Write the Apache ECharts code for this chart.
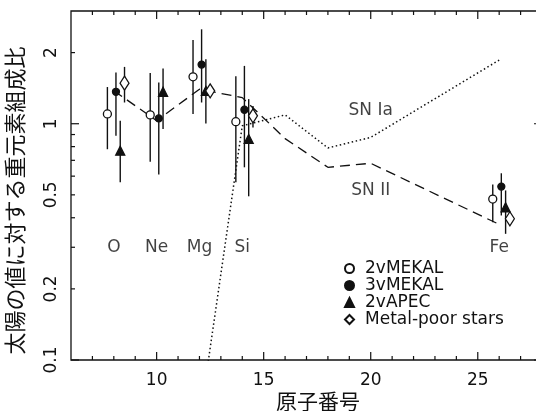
<!DOCTYPE html>
<html lang="ja">
<head>
<meta charset="UTF-8">
<title>太陽の値に対する重元素組成比</title>
<script src="https://cdn.jsdelivr.net/npm/echarts@6.0.0/dist/echarts.min.js"></script>
<style>
  html, body { margin: 0; padding: 0; background: #fff; }
  #chart { width: 536px; height: 411px; }
</style>
</head>
<body>
<div id="chart"></div>
<script>
// 元素ラベル
const elemZ = [8, 10, 12, 14, 26];
const elemNames = ['O', 'Ne', 'Mg', 'Si', 'Fe'];

// 2vMEKAL (open circle)
const mekal2X = [7.7, 9.7, 11.7, 13.7, 25.7];
const mekal2Val = [1.10, 1.09, 1.58, 1.02, 0.48];
const mekal2Lo = [0.78, 0.69, 1.10, 0.565, 0.383];
const mekal2Hi = [1.43, 1.64, 2.26, 1.59, 0.553];

// 3vMEKAL (filled circle)
const mekal3X = [8.1, 10.1, 12.1, 14.1, 26.1];
const mekal3Val = [1.365, 1.053, 1.78, 1.146, 0.542];
const mekal3Lo = [0.89, 0.609, 1.23, 0.654, 0.409];
const mekal3Hi = [1.646, 1.494, 2.51, 1.757, 0.617];

// 2vAPEC (filled triangle)
const apecX = [8.3, 10.3, 12.3, 14.3, 26.3];
const apecVal = [0.769, 1.365, 1.378, 0.862, 0.443];
const apecLo = [0.565, 0.95, 1.003, 0.493, 0.342];
const apecHi = [1.03, 1.711, 1.875, 1.271, 0.522];

// Metal-poor stars (diamond)
const starX = [8.5, 12.5, 14.5, 26.5];
const starVal = [1.485, 1.378, 1.08, 0.396];
const starLo = [1.23, null, 0.965, null];
const starHi = [1.74, null, 1.19, null];

// model curves
const snIIZ = [8, 10, 12, 14, 16, 18, 20, 26];
const snIIVal = [1.38, 1.03, 1.40, 1.29, 0.865, 0.654, 0.68, 0.375];
const snIaZ = [12, 14, 16, 18, 20, 26];
const snIaVal = [0.0545, 0.98, 1.09, 0.79, 0.875, 1.86];

// ticks
const xLabels = [10, 15, 20, 25];
const xMinor = [7, 8, 9, 11, 12, 13, 14, 16, 17, 18, 19, 21, 22, 23, 24, 26, 27];
const yLabels = [0.1, 0.2, 0.5, 1, 2];
const yMajor = [0.1, 1];
const yMinor = [0.2, 0.3, 0.4, 0.5, 0.6, 0.7, 0.8, 0.9, 2];

const xMin = 6, xMax = 28, yMin = 0.1, yMax = 3;
const ink = '#111';
const font = 'DejaVu Sans';

function errorBars(xs, lo, hi) {
  const data = [];
  xs.forEach((x, i) => { if (lo[i] != null) data.push([x, lo[i], hi[i]]); });
  return {
    type: 'custom', silent: true, z: 2, data,
    encode: { x: 0, y: [1, 2] },
    renderItem: (params, api) => {
      const a = api.coord([api.value(0), api.value(1)]);
      const b = api.coord([api.value(0), api.value(2)]);
      return { type: 'line', shape: { x1: a[0], y1: a[1], x2: b[0], y2: b[1] },
               style: { stroke: ink, lineWidth: 1.4 } };
    }
  };
}
function points(name, xs, vals, symbol, size, fill) {
  return {
    type: 'scatter', name, symbol, symbolSize: size, z: 4,
    data: xs.map((x, i) => [x, vals[i]]),
    itemStyle: { color: fill, borderColor: ink, borderWidth: 1.3, opacity: 1 }
  };
}
function textMarks(items, size) {
  return {
    type: 'scatter', symbol: 'circle', symbolSize: 0, silent: true, z: 5,
    label: { show: true, position: [0, 0], align: 'center', verticalAlign: 'middle', formatter: '{b}',
             fontFamily: font, fontSize: size, color: ink },
    data: items
  };
}

// inward ticks on all four sides (dir 0 = x tick, 1 = y tick)
const tickData = [
  ...xLabels.map(v => [v, yMin, 0, 8]),
  ...xMinor.map(v => [v, yMin, 0, 4]),
  ...yMajor.map(v => [xMin, v, 1, 8]),
  ...yMinor.map(v => [xMin, v, 1, 4])
];
const tickSeries = {
  type: 'custom', silent: true, z: 6, data: tickData,
  encode: { x: 0, y: 1 },
  renderItem: (params, api) => {
    const v = api.value(0), w = api.value(1), dir = api.value(2), len = api.value(3);
    const st = { stroke: ink, lineWidth: 1.2 };
    if (dir === 0) {
      const b = api.coord([v, yMin]), t = api.coord([v, yMax]);
      return { type: 'group', children: [
        { type: 'line', shape: { x1: b[0], y1: b[1], x2: b[0], y2: b[1] - len }, style: st },
        { type: 'line', shape: { x1: t[0], y1: t[1], x2: t[0], y2: t[1] + len }, style: st }
      ] };
    }
    const l = api.coord([xMin, w]), r = api.coord([xMax, w]);
    return { type: 'group', children: [
      { type: 'line', shape: { x1: l[0], y1: l[1], x2: l[0] + len, y2: l[1] }, style: st },
      { type: 'line', shape: { x1: r[0], y1: r[1], x2: r[0] - len, y2: r[1] }, style: st }
    ] };
  }
};

const chart = echarts.init(document.getElementById('chart'));
chart.setOption({
  animation: false,
  grid: { left: 71, top: 11, right: -6, bottom: 51, outerBoundsMode: 'none',
          show: true, borderColor: ink, borderWidth: 1.3 },
  xAxis: {
    type: 'value', min: xMin, max: xMax,
    axisLine: { show: false }, axisTick: { show: false }, splitLine: { show: false },
    axisLabel: { customValues: xLabels, margin: 12, fontFamily: font, fontSize: 17, color: ink },
    name: '原子番号', nameLocation: 'middle', nameGap: 31, nameMoveOverlap: false,
    nameTextStyle: { fontFamily: 'Noto Sans CJK JP', fontSize: 21, color: ink, padding: [0, 0, 0, 23] }
  },
  yAxis: {
    type: 'log', logBase: 10, min: yMin, max: yMax,
    axisLine: { show: false }, axisTick: { show: false }, splitLine: { show: false },
    axisLabel: { customValues: yLabels, rotate: 90, margin: 11, fontFamily: font, fontSize: 17, color: ink },
    name: '太陽の値に対する重元素組成比', nameLocation: 'middle', nameRotate: 90, nameGap: 45,
    nameTextStyle: { fontFamily: 'Noto Sans CJK JP', fontSize: 22, color: ink, padding: [0, 30, 0, 0] }
  },
  legend: {
    orient: 'vertical', left: 339, top: 255, itemWidth: 9, itemHeight: 9, itemGap: 0,
    data: ['2vMEKAL', '3vMEKAL', '2vAPEC', 'Metal-poor stars'],
    textStyle: { fontFamily: font, fontSize: 17, color: ink, padding: [0, 0, 0, 6] }
  },
  series: [
    { type: 'line', name: 'SN II', data: snIIZ.map((z, i) => [z, snIIVal[i]]), symbol: 'none', z: 1,
      lineStyle: { color: ink, width: 1.3, type: [10, 6] } },
    { type: 'line', name: 'SN Ia', data: snIaZ.map((z, i) => [z, snIaVal[i]]), symbol: 'none', z: 1,
      lineStyle: { color: ink, width: 1.5, type: [1.5, 2.6] } },
    errorBars(mekal2X, mekal2Lo, mekal2Hi),
    errorBars(mekal3X, mekal3Lo, mekal3Hi),
    errorBars(apecX, apecLo, apecHi),
    errorBars(starX, starLo, starHi),
    points('2vMEKAL', mekal2X, mekal2Val, 'circle', 8, '#fff'),
    points('3vMEKAL', mekal3X, mekal3Val, 'circle', 7, ink),
    points('2vAPEC', apecX, apecVal, 'triangle', 9, ink),
    points('Metal-poor stars', starX, starVal, 'diamond', [9, 14], '#fff'),
    textMarks(elemZ.map((z, i) => ({ name: elemNames[i], value: [z, 0.30] })), 17),
    textMarks([{ name: 'SN Ia', value: [20, 1.135] }, { name: 'SN II', value: [20, 0.522] }], 17),
    tickSeries
  ]
});
</script>
</body>
</html>
